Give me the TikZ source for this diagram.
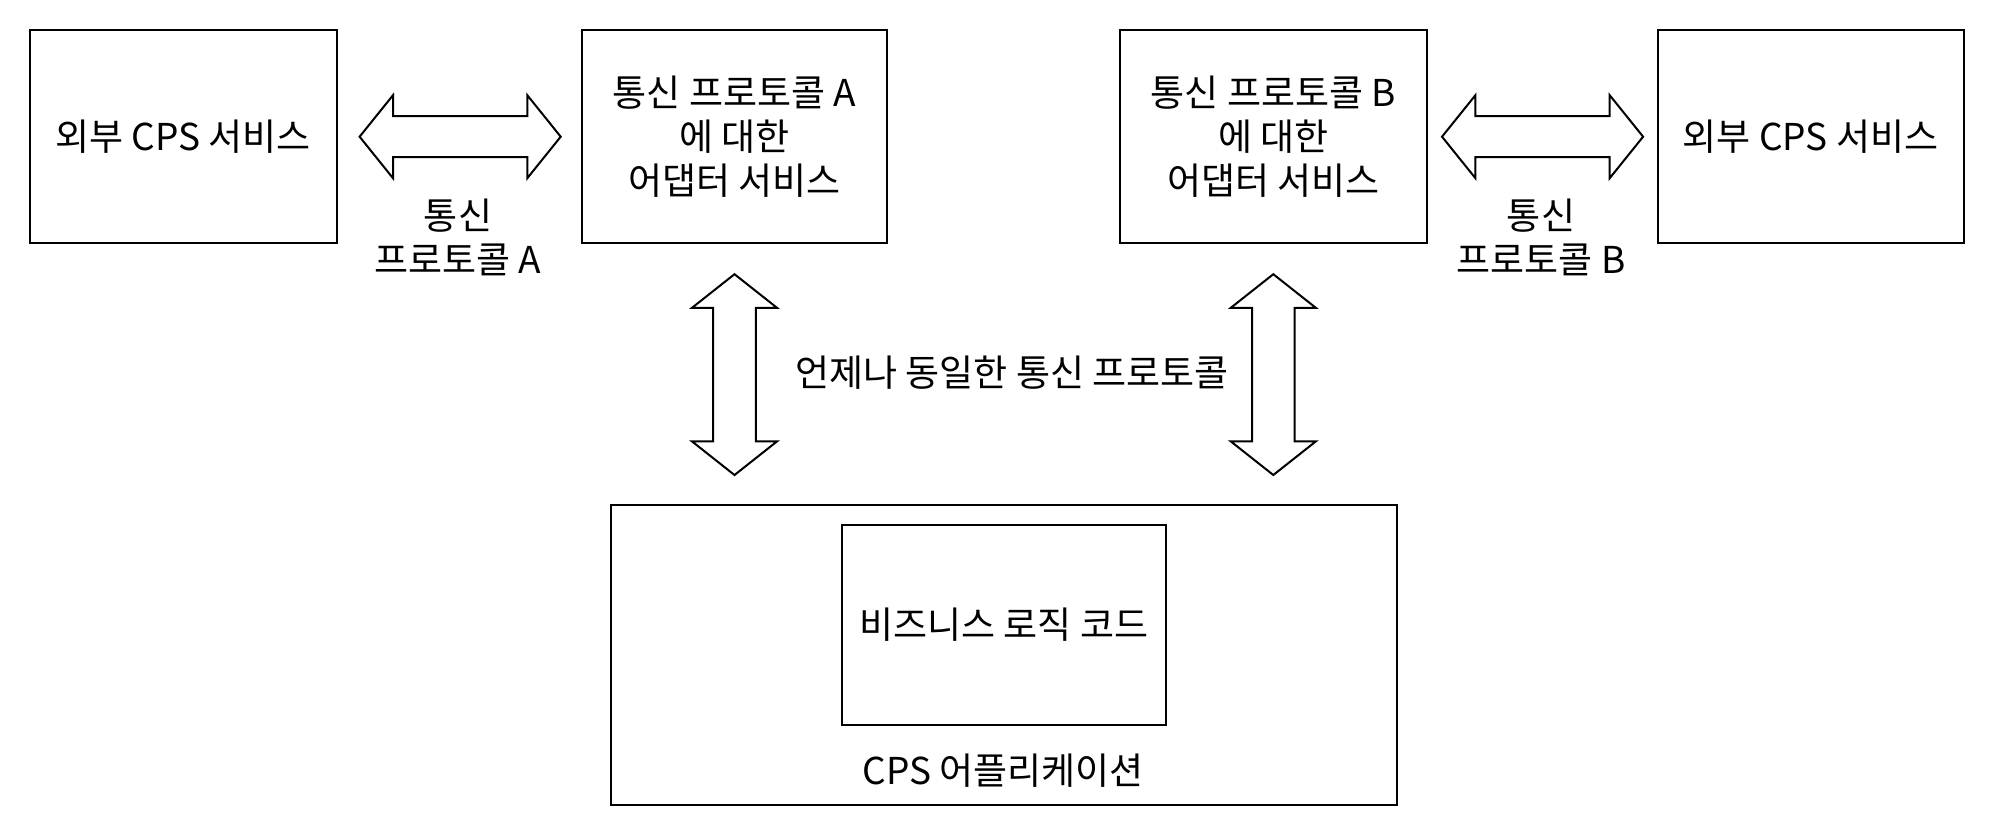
\documentclass[tikz,border=0pt]{standalone}
\usepackage{fontspec}
\setmainfont{Noto Sans CJK KR}
\usetikzlibrary{calc}
\begin{document}
\begin{tikzpicture}[x=1pt,y=-1pt,
  box/.style={draw, line width=2pt, inner sep=0pt, align=center, font=\fontsize{37}{44}\selectfont},
  lbl/.style={inner sep=0pt, align=center, font=\fontsize{37}{44}\selectfont},
  blk/.style={draw, line width=2pt, line join=miter, fill=white}]
\useasboundingbox[fill=white] (0,0) rectangle (1994,836);
% top row boxes
\node[box, minimum width=307pt, minimum height=213pt] (ext1) at (183.3,136.7) {외부 CPS 서비스};
\node[box, minimum width=305pt, minimum height=213pt] (adA) at (734.5,136.7) {통신 프로토콜 A\\에 대한\\어댑터 서비스};
\node[box, minimum width=307pt, minimum height=213pt] (adB) at (1273.3,136.7) {통신 프로토콜 B\\에 대한\\어댑터 서비스};
\node[box, minimum width=306pt, minimum height=213pt] (ext2) at (1810.6,136.7) {외부 CPS 서비스};
% bottom
\node[draw, line width=2pt, inner sep=0pt, minimum width=786pt, minimum height=300pt] (app) at (1004.2,655) {};
\node[box, minimum width=324pt, minimum height=200pt] (biz) at (1003.8,625) {비즈니스 로직 코드};
\node[lbl] (appl) at (1003,771) {CPS 어플리케이션};
% labels
\node[lbl] (pA) at (458,237) {통신\\프로토콜 A};
\node[lbl] (pB) at (1541,237) {통신\\프로토콜 B};
\node[lbl] (same) at (1012,373) {언제나 동일한 통신 프로토콜};
% arrow tip coordinates
\coordinate (hA) at ($(ext1.east)+(21.8,0)$);
\coordinate (hB) at ($(adB.east)+(14.2,0)$);
\coordinate (vA) at ($(adA.south)+(0,30)$);
\coordinate (vB) at ($(adB.south)+(0,30)$);
% horizontal double block arrows
\foreach \c in {hA,hB}{
  \draw[blk] (\c) -- ++(33.4,-41.5) -- ++(0,21) -- ++(134.3,0) -- ++(0,-21) -- ++(33.4,41.5)
    -- ++(-33.4,41.5) -- ++(0,-21) -- ++(-134.3,0) -- ++(0,21) -- cycle;
}
% vertical double block arrows
\foreach \c in {vA,vB}{
  \draw[blk] (\c) -- ++(42.5,33.6) -- ++(-21.2,0) -- ++(0,133.6) -- ++(21.2,0) -- ++(-42.5,33.6)
    -- ++(-42.5,-33.6) -- ++(21.2,0) -- ++(0,-133.6) -- ++(-21.2,0) -- cycle;
}
\end{tikzpicture}
\end{document}
